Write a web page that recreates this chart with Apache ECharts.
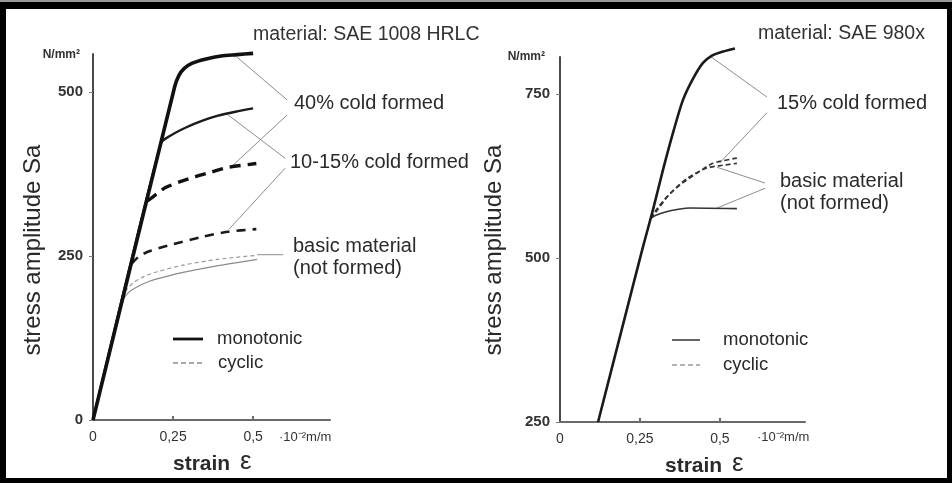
<!DOCTYPE html>
<html><head><meta charset="utf-8">
<script src="https://cdn.jsdelivr.net/npm/echarts@6/dist/echarts.min.js"></script>
<style>
html,body{margin:0;padding:0;background:#000;}
#frame{position:absolute;left:0;top:0;width:952px;height:483px;background:#000;overflow:hidden}
#rule{position:absolute;left:0;top:0;width:952px;height:2px;background:#9a9a9a}
#paper{position:absolute;left:6px;top:9px;width:941px;height:469px;background:#fff}
#chart{position:absolute;left:0;top:0;width:952px;height:483px}
</style></head><body>
<div id="frame"><div id="rule"></div><div id="paper"></div><div id="chart"></div></div>
<script>
// ---- Left panel: SAE 1008 HRLC, strain [10^-2 m/m] vs stress amplitude [N/mm²]
const hrlcMono40 = [[0,0],[0.255,508],[0.268,525],[0.285,536],[0.31,544],[0.35,550],[0.40,555],[0.45,557],[0.5,559]];
const hrlcMono10 = [[0,0],[0.212,422],[0.24,433],[0.29,446],[0.34,456],[0.39,464],[0.445,470],[0.5,475]];
const hrlcCyc40 = [[0.17,334],[0.2,345],[0.225,354],[0.27,363],[0.32,371],[0.37,378],[0.42,385],[0.51,391]];
const hrlcCyc10 = [[0.12,238],[0.145,250],[0.18,258],[0.25,268],[0.34,279],[0.42,287],[0.51,291]];
const hrlcMonoBasic = [[0.09,180],[0.106,192],[0.13,201],[0.178,212],[0.23,219],[0.281,225],[0.387,235],[0.5125,245]];
const hrlcCycBasic = [[0.1,196],[0.125,209],[0.16,219],[0.2,226],[0.28,236],[0.39,245],[0.51,251]];

// ---- Right panel: SAE 980x
const dpMono15 = [[0.119,250],[0.19,385],[0.259,516],[0.29,572],[0.322,634],[0.353,690],[0.384,740],[0.416,773],[0.447,797],[0.475,808],[0.5,813],[0.547,819]];
const dpMonoBasic = [[0.283,560],[0.30,565],[0.33,570],[0.37,574],[0.406,576],[0.553,575]];
const dpCyc15 = [[0.283,560],[0.305,576],[0.334,593],[0.375,611],[0.428,629],[0.478,644],[0.553,652]];
const dpCycBasic = [[0.283,560],[0.30,570],[0.344,598],[0.397,621],[0.459,637],[0.509,641],[0.553,644]];

// label leader lines (data units of each panel)
const hrlcLeaders = [
  [[0.606,488],[0.45,553]],
  [[0.606,465],[0.434,387]],
  [[0.422,465],[0.6,399]],
  [[0.6,384],[0.425,291]],
  [[0.5125,252],[0.594,252]]
];
const dpLeaders = [
  [[0.647,745],[0.47,807]],
  [[0.647,721],[0.5,645]],
  [[0.641,614],[0.491,638]],
  [[0.641,606],[0.491,576]]
];

// tick values
const hrlcStressTicks = [0,250,500];
const dpStressTicks = [250,500,750];
const strainTicks = [0,0.25,0.5];
const strainTickText = {0:'0',0.25:'0,25',0.5:'0,5'};

const FONT = '"Liberation Sans", Arial, sans-serif';
const INK = '#2a2a2a';
const chart = echarts.init(document.getElementById('chart'), null, {renderer:'canvas'});

function curve(name, idx, data, color, width, dash){
  return {name, type:'line', xAxisIndex:idx, yAxisIndex:idx, data, showSymbol:false, symbol:'none',
    smooth:0.25, clip:false, silent:true, z:3,
    lineStyle:{color, width, type: dash || 'solid', cap:'butt', join:'round'}};
}
function leader(idx, pts, k){
  return {name:'leader'+idx+'_'+k, type:'line', xAxisIndex:idx, yAxisIndex:idx, data:pts, symbol:'none',
    clip:false, silent:true, z:2, lineStyle:{color:'#8c8c8c', width:1}};
}

function xAxis(idx, max){
  return {type:'value', gridIndex:idx, min:0, max,
    axisLine:{lineStyle:{color:'#6a6a6a', width:2}},
    axisTick:{inside:true, length:4, customValues:[0.25,0.5], lineStyle:{color:'#6a6a6a', width:2}},
    axisLabel:{customValues:strainTicks, formatter:v=>strainTickText[v] ?? '', color:'#333', fontSize:14, fontFamily:FONT, margin:10},
    splitLine:{show:false}};
}
function yAxis(idx, min, max, ticks){
  return {type:'value', gridIndex:idx, min, max,
    axisLine:{show:true, lineStyle:{color:'#4a4a4a', width:2}},
    axisTick:{show:true, length:4, customValues:ticks, lineStyle:{color:'#777', width:1}},
    axisLabel:{customValues:ticks, color:'#333', fontSize:15, fontWeight:'bold', fontFamily:FONT, margin:10},
    splitLine:{show:false}};
}

function txt(x, y, text, size, opts){
  opts = opts || {};
  return {type:'text', x, y, rotation: opts.rot || 0, silent:true, z:10,
    style:{text, fill: opts.color || INK, font: (opts.weight||'normal')+' '+size+'px '+FONT,
      textAlign: opts.align || 'left', align: opts.align || 'left',
      textVerticalAlign:'middle', verticalAlign:'middle'}};
}
function seg(x1,y1,x2,y2,w,color,dash){
  return {type:'line', silent:true, z:10, shape:{x1,y1,x2,y2}, style:{stroke:color, lineWidth:w, lineDash: dash || null}};
}

const series = [
  curve('basic monotonic', 0, hrlcMonoBasic, '#8a8a8a', 1.2),
  curve('basic cyclic', 0, hrlcCycBasic, '#9a9a9a', 1.2, [4,3]),
  curve('10-15% cyclic', 0, hrlcCyc10, '#1a1a1a', 2.6, [9,7]),
  curve('40% cyclic', 0, hrlcCyc40, '#111', 3.4, [11,7]),
  curve('10-15% monotonic', 0, hrlcMono10, '#1a1a1a', 2.4),
  curve('40% monotonic', 0, hrlcMono40, '#111', 3.6),
  curve('basic monotonic 980x', 1, dpMonoBasic, '#333', 1.6),
  curve('basic cyclic 980x', 1, dpCycBasic, '#333', 1.6, [5,3]),
  curve('15% cyclic 980x', 1, dpCyc15, '#333', 1.6, [5,3]),
  curve('15% monotonic 980x', 1, dpMono15, '#1a1a1a', 2.6)
];
hrlcLeaders.forEach((p,k)=>series.push(leader(0,p,k)));
dpLeaders.forEach((p,k)=>series.push(leader(1,p,k)));

const graphic = [
  // left panel texts
  txt(253, 35, 'material: SAE 1008 HRLC', 19.5, {color:'#333'}),
  txt(80, 55, 'N/mm²', 12, {weight:'bold', align:'right', color:'#333'}),
  txt(33, 250, 'stress amplitude Sa', 24, {rot:Math.PI/2, align:'center'}),
  txt(173, 464, 'strain', 21, {weight:'bold'}),
  txt(240, 462, 'ε', 26),
  txt(279, 437, '·10⁻²m/m', 13, {color:'#333'}),
  txt(294, 103, '40% cold formed', 20),
  txt(290, 162, '10-15% cold formed', 20),
  txt(293, 246, 'basic material', 20),
  txt(293, 268, '(not formed)', 20),
  seg(173, 339, 203, 339, 2.8, '#111'),
  txt(217, 339, 'monotonic', 18.5),
  seg(173, 363, 203, 363, 1.2, '#555', [5,3]),
  txt(218, 363, 'cyclic', 18.5),
  // right panel texts
  txt(758, 34, 'material: SAE 980x', 19.5, {color:'#333'}),
  txt(545, 57, 'N/mm²', 12, {weight:'bold', align:'right', color:'#333'}),
  txt(494, 250, 'stress amplitude Sa', 24, {rot:Math.PI/2, align:'center'}),
  txt(665, 466, 'strain', 21, {weight:'bold'}),
  txt(732, 464, 'ε', 26),
  txt(757, 437, '·10⁻²m/m', 13, {color:'#333'}),
  txt(777, 103, '15% cold formed', 20),
  txt(780, 181, 'basic material', 20),
  txt(780, 203, '(not formed)', 20),
  seg(672, 340, 700, 340, 1.5, '#333'),
  txt(723, 340, 'monotonic', 18.5),
  seg(672, 365, 700, 365, 1.2, '#666', [5,3]),
  txt(723, 365, 'cyclic', 18.5)
];

chart.setOption({
  backgroundColor:'transparent',
  animation:false,
  textStyle:{fontFamily:FONT},
  grid:[
    {left:93, top:54, width:237, height:366},
    {left:560, top:57, width:245, height:365}
  ],
  xAxis:[xAxis(0, 0.74), xAxis(1, 0.766)],
  yAxis:[yAxis(0, 0, 558, hrlcStressTicks), yAxis(1, 250, 806, dpStressTicks)],
  series,
  graphic
});
</script>
</body></html>
